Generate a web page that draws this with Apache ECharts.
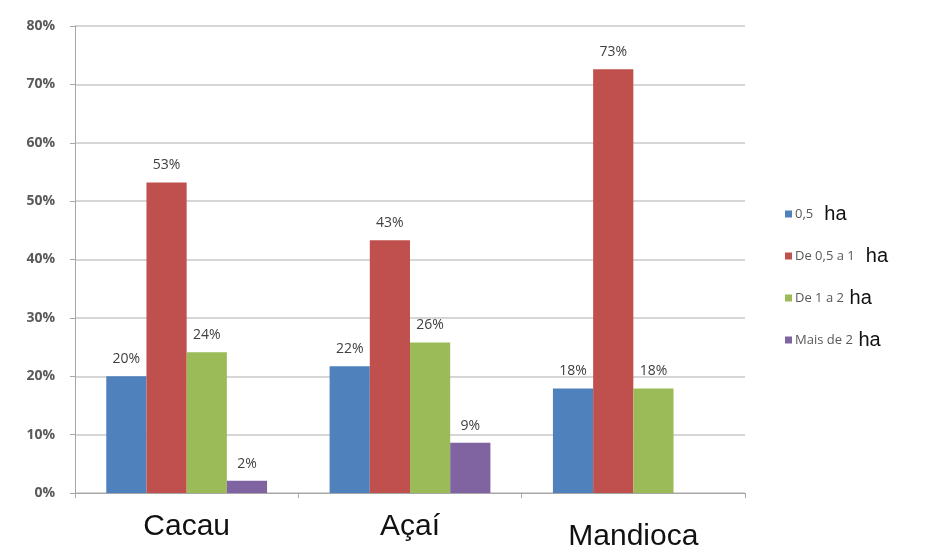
<!DOCTYPE html>
<html><head><meta charset="utf-8">
<script src="https://cdn.jsdelivr.net/npm/echarts@6/dist/echarts.min.js"></script>
<style>html,body{margin:0;padding:0;background:#fff}#c{width:941px;height:548px}</style>
</head><body><div id="c"></div>
<script>
var categories = ['Cacau', 'Açaí', 'Mandioca'];
var seriesNames = ['0,5 ha', 'De 0,5 a 1 ha', 'De 1 a 2 ha', 'Mais de 2 ha'];
var s05 = [20, 21.7, 17.9];
var s05a1 = [53.2, 43.3, 72.6];
var s1a2 = [24.1, 25.8, 17.9];
var sMais2 = [2.1, 8.6, null];
var yTicks = [0, 10, 20, 30, 40, 50, 60, 70, 80];
var colors = ['#4F81BD', '#C0504D', '#9BBB59', '#8064A2'];

var chart = echarts.init(document.getElementById('c'));
var allData = [s05, s05a1, s1a2, sMais2];
var series = allData.map(function (d, i) {
  return {
    name: seriesNames[i], type: 'bar', data: d,
    barGap: '0%', barCategoryGap: '28%',
    itemStyle: { color: colors[i] },
    label: {
      show: true, position: 'top', distance: 10,
      color: '#404040', fontSize: 14, fontFamily: 'Open Sans, DejaVu Sans, sans-serif',
      formatter: function (p) { return p.value == null ? '' : Math.round(p.value) + '%'; }
    }
  };
});
chart.setOption({
  animation: false,
  color: colors,
  grid: { left: 75, right: 196, top: 26, bottom: 55, containLabel: false, outerBoundsMode: 'none' },
  legend: {
    orient: 'vertical', left: 780, top: 199, itemWidth: 7, itemHeight: 7, itemGap: 22,
    icon: 'rect',
    data: seriesNames,
    formatter: function (n) {
      var base = n.replace(/\s*ha$/, '');
      var sp = base === '0,5' ? '  ' : (base === 'De 0,5 a 1' ? '  ' : ' ');
      return '{a|' + base + '}{b|' + sp + 'ha}';
    },
    textStyle: {
      padding: [0, 0, 0, -2],
      rich: {
        a: { fontSize: 13, color: '#595959', fontFamily: 'Open Sans, sans-serif', verticalAlign: 'bottom', height: 24 },
        b: { fontSize: 20, color: '#111', fontFamily: 'Liberation Sans, sans-serif', verticalAlign: 'bottom', height: 24 }
      }
    }
  },
  xAxis: {
    type: 'category', data: categories,
    axisLine: { lineStyle: { color: '#a6a6a6', width: 1 } },
    axisTick: { show: true, length: 5, lineStyle: { color: '#a6a6a6' } },
    axisLabel: {
      interval: 0, hideOverlap: false,
      color: '#111', fontSize: 30, margin: 19, fontFamily: 'Liberation Sans, sans-serif',
      formatter: function (v) { return v === 'Mandioca' ? '{m|' + v + '}' : v; },
      rich: { m: { fontSize: 30, color: '#111', fontFamily: 'Liberation Sans, sans-serif', padding: [10, 0, 0, 0] } }
    }
  },
  yAxis: {
    type: 'value', min: 0, max: 80, interval: 10,
    axisLine: { show: true, lineStyle: { color: '#a6a6a6' } },
    axisTick: { show: true, length: 5, lineStyle: { color: '#a6a6a6' } },
    splitLine: { lineStyle: { color: '#c8c8c8', width: 1.5 } },
    axisLabel: {
      color: '#595959', fontSize: 14, fontWeight: 'bold', margin: 20, fontFamily: 'Open Sans, sans-serif',
      formatter: function (v) { return yTicks.indexOf(v) >= 0 ? v + '%' : ''; }
    }
  },
  series: series
});
</script></body></html>
